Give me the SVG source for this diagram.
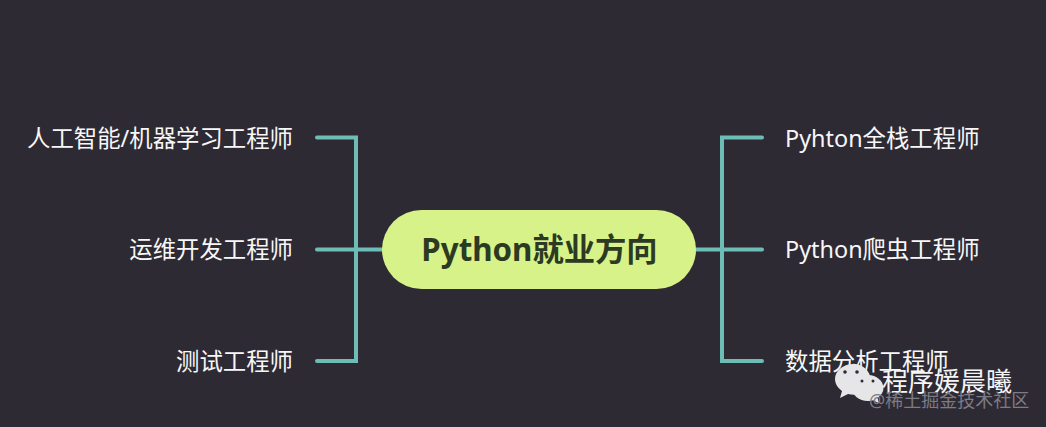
<svg xmlns="http://www.w3.org/2000/svg" width="1046" height="427" viewBox="0 0 1046 427">
<style>
text{font-family:"Noto Sans","Noto Sans CJK SC",sans-serif;}
.l{font-size:23.400px;fill:#f7f7f7;}
.e{text-anchor:end;}
.c{fill:none;stroke:#6bbdb5;stroke-width:4;stroke-linecap:round;stroke-linejoin:miter;}
</style>
<rect width="1046" height="427" fill="#2d2a34"/>
<g id="connectors">
<path class="c" d="M317 137.500H356V361H317M317 249.500H384"/>
<path class="c" d="M762 137.500H722V361H762M762 249.500H695"/>
</g>
<g id="root">
<rect x="382" y="210" width="314" height="79" rx="39.500" fill="#d8f28a"/>
<text x="539.500" y="261" text-anchor="middle" font-size="31.300" font-weight="700" fill="#2d3a22">Python就业方向</text>
</g>
<g id="n1"><text class="l e" x="293" y="147">人工智能/机器学习工程师</text></g>
<g id="n2"><text class="l e" x="293" y="258">运维开发工程师</text></g>
<g id="n3"><text class="l e" x="293" y="370">测试工程师</text></g>
<g id="n4"><text class="l" x="785" y="147">Pyhton全栈工程师</text></g>
<g id="n5"><text class="l" x="785" y="258">Python爬虫工程师</text></g>
<g id="n6"><text class="l" x="785" y="370">数据分析工程师</text></g>
<g id="watermark">
<path d="M853 364c-10 0-18 7-18 15 0 5 3 9 7 12l-2 7 8-4c2 .5 4 .7 6 .7h2c-2-8 3-17 14-19-2-7-9-12-17-12z" fill="#e6e6e8"/>
<path d="M868 375c-9 0-16 6-16 13s7 13 16 13c2 0 4-.3 5-.8l6 3-1.500-5.500c4-2.500 6-6 6-9.700 0-7-7-13-15.500-13z" fill="#e6e6e8"/>
<circle cx="845" cy="372" r="1.800" fill="#2d2a34"/><circle cx="857" cy="372" r="1.800" fill="#2d2a34"/>
<circle cx="862" cy="381" r="1.500" fill="#2d2a34"/><circle cx="873" cy="381" r="1.500" fill="#2d2a34"/>
<text x="882" y="391" font-size="26" fill="#f5f5f5">程序媛晨曦</text>
<text x="869" y="407" font-size="18" fill="#7d7b84">@稀土掘金技术社区</text>
</g>
</svg>
